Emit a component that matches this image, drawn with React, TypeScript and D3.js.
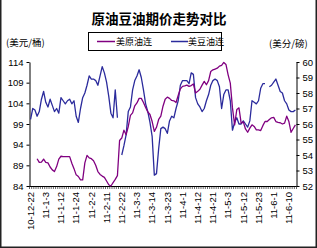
import * as d3 from "d3";
import { useEffect, useRef } from "react";

const W = 317;
const H = 248;

// x tick labels, one every 7 trading days
const tickLabels = [
    "10-12-22", "11-1-3", "11-1-12", "11-1-24", "11-2-2", "11-2-11",
    "11-2-22", "11-3-3", "11-3-14", "11-3-23", "11-4-1", "11-4-12",
    "11-4-21", "11-5-3", "11-5-12", "11-5-23", "11-6-1", "11-6-10",
];
const labelEvery = 7;

// 美原油连 (美元/桶), left axis
const crude: (number | null)[] = [
    null, null, null, 90.6, 89.7, 89.8, 90.5, 89.7, 89.6, 88.6,
    87.9, 87.5, 88.7, 90.5, 91.2, 91.1, 91.1, 91.1, 91.1, 89.5,
    88.2, 86.7, 86.3, 85.5, 85.5, 89.6, 91.4, 90.8, 90.6, 90.1,
    89.0, 87.5, 86.8, 86.4, 86.1, 85.2, 84.3, 84.0, 84.8, 85.6,
    86.5, 95.0, 95.6, 97.5, 96.4, 98.4, 101.1, 101.7, 103.4, 104.1,
    105.2, 105.2, 104.2, 103.0, 101.9, 101.3, 99.6, 97.2, 98.2, 100.1,
    100.9, 103.3, 105.0, 105.5, 105.2, 104.7, 104.6, 104.2, 105.9, 107.5,
    108.1, 108.2, 108.4, 108.1, 108.3, 108.7, 106.5, 106.9, 107.4, 108.4,
    109.3, 108.5, 109.5, 111.7, 112.1, 112.3, 112.5, 113.0, 113.2, 113.9,
    113.4, 110.9, 108.9, 102.9, 98.8, 102.5, 102.9, 99.2, 99.5, 97.8,
    97.0, 98.0, 98.8, 98.4, 97.6, 97.6, 97.4, 98.6, 99.6, 99.6,
    100.1, 100.5, 100.6, 99.6, 99.4, 99.3, 99.0, 99.2, 100.9, 99.6,
    97.0, 97.9, 98.8,
];

// 美豆油连 (美分/磅), right axis
const soyOil: (number | null)[] = [
    56.3, 57.0, 56.9, 56.5, 56.8, 57.6, 58.1, 57.4, 57.1, 57.6,
    57.2, 56.8, 57.0, 56.7, 57.7, 57.5, 57.3, 57.5, 57.6, 57.3,
    57.5, 56.5, 56.1, 57.0, 57.7, 58.0, 58.5, 59.1, 58.9, 58.9,
    58.8, 58.5, 59.1, 59.7, 59.3, 58.7, 57.8, 56.7, 56.4, 58.2,
    56.4, null, 54.0, 54.6, 55.3, 56.8, 57.1, 58.2, 58.8, 59.1,
    59.5, 59.0, 58.2, 57.3, 56.8, 56.1, 55.2, 52.7, 52.8, 54.4,
    55.7, 55.8, 55.7, 55.4, 56.2, 56.5, 56.4, 57.0, 57.5, 58.5,
    58.8, 58.8, 58.8, 58.6, 59.3, 59.2, 57.7, 57.3, 57.1, 56.8,
    57.0, 57.5, 57.9, 58.5, 58.8, 58.9, 58.8, 58.4, 57.0, 57.9,
    58.2, 58.2, 57.5, 55.6, 56.1, 56.4, 56.0, 56.0, 56.2, 56.0,
    55.8, 56.2, 57.5, 57.4, 57.3, 57.5, 58.3, 58.6, 58.6, null,
    58.4, 58.5, 58.7, 58.9, 58.5, 58.1, 58.0, 57.5, 57.3, 56.9,
    56.8, 56.8, 56.9,
];

const leftTicks = [84, 89, 94, 99, 104, 109, 114];
const rightTicks = [52, 53, 54, 55, 56, 57, 58, 59, 60];

const seriesNames = ["美原油连", "美豆油连"];
const colors = ["#800080", "#2b2b9c"];

const cjk = "'Noto Sans CJK SC', sans-serif";
const latin = "'Liberation Sans', Arial, sans-serif";

export default function App() {
    const ref = useRef<SVGSVGElement | null>(null);

    useEffect(() => {
        if (!ref.current) return;
        const svg = d3.select(ref.current);
        svg.selectAll("*").remove();

        const left = 29.5, right = 296.5, top = 62, bottom = 186;
        const n = crude.length;

        const x = d3.scaleBand<number>().domain(d3.range(n)).range([left, right]);
        const cx = (i: number) => x(i)! + x.bandwidth() / 2;
        const yL = d3.scaleLinear().domain([84, 114]).range([bottom, top]);
        const yR = d3.scaleLinear().domain([52, 60]).range([bottom, top]);

        svg.append("rect").attr("width", W).attr("height", H).attr("fill", "#fff");

        // frame
        svg.append("path")
            .attr("d", `M0.75,0 V${H - 0.75} H${W - 0.75} V0`)
            .attr("fill", "none")
            .attr("stroke", "#222")
            .attr("stroke-width", 1.5);

        // title
        svg.append("text")
            .attr("x", 159)
            .attr("y", 24)
            .attr("text-anchor", "middle")
            .attr("font-family", cjk)
            .attr("font-weight", "bold")
            .attr("font-size", 13.5)
            .text("原油豆油期价走势对比");

        // units
        svg.append("text")
            .attr("x", 6).attr("y", 46)
            .attr("font-family", cjk).attr("font-size", 9.5)
            .text("(美元/桶)");
        svg.append("text")
            .attr("x", 269).attr("y", 47)
            .attr("font-family", cjk).attr("font-size", 9.5)
            .text("(美分/磅)");

        // left axis
        const gL = svg.append("g")
            .attr("transform", `translate(${left},0)`)
            .call(d3.axisLeft(yL).tickValues(leftTicks).tickSize(3).tickSizeOuter(0).tickPadding(3));
        // right axis
        const gR = svg.append("g")
            .attr("transform", `translate(${right},0)`)
            .call(d3.axisRight(yR).tickValues(rightTicks).tickSize(3).tickSizeOuter(0).tickPadding(3));

        [gL, gR].forEach(g => {
            g.attr("font-family", latin).attr("font-size", 9.5);
            g.selectAll("path, line").attr("stroke", "#000");
            g.selectAll("text").attr("fill", "#000");
        });

        // bottom axis with a tick at every category boundary
        const gB = svg.append("g");
        gB.append("line")
            .attr("x1", left).attr("x2", right)
            .attr("y1", bottom + 0.5).attr("y2", bottom + 0.5)
            .attr("stroke", "#000");
        gB.selectAll("line.tick")
            .data(d3.range(n + 1))
            .join("line")
            .attr("class", "tick")
            .attr("x1", i => (i < n ? x(i)! : right))
            .attr("x2", i => (i < n ? x(i)! : right))
            .attr("y1", bottom)
            .attr("y2", bottom + 3)
            .attr("stroke", "#000")
            .attr("stroke-width", 0.6);
        gB.selectAll("text")
            .data(tickLabels)
            .join("text")
            .attr("transform", (_, k) => `translate(${cx(k * labelEvery)},${bottom + 6}) rotate(-90)`)
            .attr("text-anchor", "end")
            .attr("dy", "0.35em")
            .attr("font-family", latin)
            .attr("font-size", 9.5)
            .attr("fill", "#000")
            .text(d => d);

        // lines
        const lineL = d3.line<number | null>()
            .defined(d => d != null)
            .x((_, i) => cx(i))
            .y(d => yL(d as number));
        const lineR = d3.line<number | null>()
            .defined(d => d != null)
            .x((_, i) => cx(i))
            .y(d => yR(d as number));

        svg.append("path")
            .attr("d", lineR(soyOil) ?? "")
            .attr("fill", "none")
            .attr("stroke", colors[1])
            .attr("stroke-width", 1.3)
            .attr("stroke-linejoin", "round");
        svg.append("path")
            .attr("d", lineL(crude) ?? "")
            .attr("fill", "none")
            .attr("stroke", colors[0])
            .attr("stroke-width", 1.3)
            .attr("stroke-linejoin", "round");

        // legend
        const lg = svg.append("g");
        lg.append("rect")
            .attr("x", 88.5).attr("y", 32.5)
            .attr("width", 133).attr("height", 18)
            .attr("fill", "#fff")
            .attr("stroke", "#000");
        const items = [
            { x1: 97, x2: 115, tx: 116 },
            { x1: 171, x2: 188, tx: 188 },
        ];
        items.forEach((it, k) => {
            lg.append("line")
                .attr("x1", it.x1).attr("x2", it.x2)
                .attr("y1", 41.5).attr("y2", 41.5)
                .attr("stroke", colors[k])
                .attr("stroke-width", 1.5);
            lg.append("text")
                .attr("x", it.tx).attr("y", 45)
                .attr("font-family", cjk)
                .attr("font-size", 9)
                .text(seriesNames[k]);
        });
    }, []);

    return <svg ref={ref} width={W} height={H} style={{ position: "absolute", left: 0, top: 0 }} />;
}
